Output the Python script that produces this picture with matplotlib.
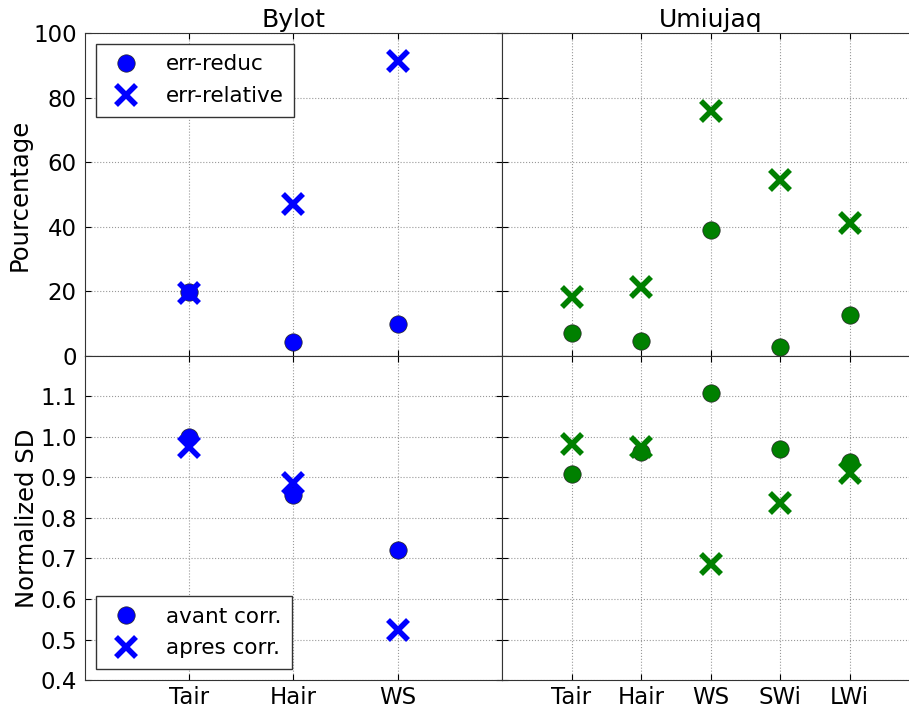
import numpy as np
import matplotlib
matplotlib.use('Agg')
import matplotlib.pyplot as plt

#------------------------------------------------------------------------------#
# Data                                                     #
#------------------------------------------------------------------------------#
sites = ['Bylot', 'Umiujaq']
vars_bylot = ['Tair', 'Hair', 'WS']
vars_umiujaq = ['Tair', 'Hair', 'WS', 'SWi', 'LWi']

# Pourcentage (top row)
bylot_err_reduc = [19.8, 4.3, 9.9]
bylot_err_relative = [19.6, 47.1, 91.3]
umiujaq_err_reduc = [7.1, 4.6, 39.0, 2.8, 12.7]
umiujaq_err_relative = [18.3, 21.4, 75.9, 54.5, 41.2]

# Normalized SD (bottom row)
bylot_avant = [1.0, 0.857, 0.72]
bylot_apres = [0.976, 0.886, 0.523]
umiujaq_avant = [0.908, 0.964, 1.109, 0.971, 0.938]
umiujaq_apres = [0.983, 0.976, 0.687, 0.837, 0.910]

#------------------------------------------------------------------------------#
# Figure                                                                       #
#------------------------------------------------------------------------------#
plt.rcParams['font.family'] = 'DejaVu Sans'
plt.rcParams['font.size'] = 16.5
plt.rcParams['xtick.direction'] = 'in'
plt.rcParams['ytick.direction'] = 'in'
plt.rcParams['xtick.top'] = True
plt.rcParams['ytick.right'] = True
plt.rcParams['xtick.major.size'] = 4
plt.rcParams['ytick.major.size'] = 4
plt.rcParams['xtick.major.pad'] = 4.5
plt.rcParams['ytick.major.pad'] = 6

fig = plt.figure(figsize=(9.09, 7.09), dpi=100)
w = 0.4587
ax_tl = fig.add_axes([0.0935, 0.4979, w, 0.4556])
ax_tr = fig.add_axes([0.5523, 0.4979, w, 0.4556])
ax_bl = fig.add_axes([0.0935, 0.0409, w, 0.4570])
ax_br = fig.add_axes([0.5523, 0.0409, w, 0.4570])

circ = dict(linestyle='none', marker='o', markersize=12.5, markeredgecolor='#222222',
            markeredgewidth=0.5)
cross = dict(linestyle='none', marker='x', markersize=14, markeredgewidth=4)


def draw(ax, names, a, b, color, la, lb):
    x = np.arange(1, len(names) + 1)
    ax.plot(x, a, color=color, label=la, **circ)
    ax.plot(x, b, color=color, label=lb, **cross)
    ax.set_xlim(0, len(names) + 1)
    ax.set_xticks(x)
    ax.set_xticklabels(names)
    ax.grid(True, linestyle=':', color='#999999', linewidth=0.8)
    for s in ax.spines.values():
        s.set_color('#333333')


draw(ax_tl, vars_bylot, bylot_err_reduc, bylot_err_relative, 'blue',
     'err-reduc', 'err-relative')
draw(ax_tr, vars_umiujaq, umiujaq_err_reduc, umiujaq_err_relative, 'green',
     'err-reduc', 'err-relative')
draw(ax_bl, vars_bylot, bylot_avant, bylot_apres, 'blue',
     'avant corr.', 'apres corr.')
draw(ax_br, vars_umiujaq, umiujaq_avant, umiujaq_apres, 'green',
     'avant corr.', 'apres corr.')

for ax in (ax_tl, ax_tr):
    ax.set_ylim(0, 100)
    ax.set_yticks(np.arange(0, 101, 20))
    ax.tick_params(labelbottom=False)
for ax in (ax_bl, ax_br):
    ax.set_ylim(0.4, 1.2)
    ax.set_yticks(np.arange(0.4, 1.15, 0.1))
    ax.set_yticklabels(['%.1f' % v for v in np.arange(0.4, 1.15, 0.1)])
for ax in (ax_tr, ax_br):
    ax.tick_params(labelleft=False)

ax_tl.set_title(sites[0], fontsize=18, pad=4)
ax_tr.set_title(sites[1], fontsize=18, pad=4)
ax_tl.set_ylabel('Pourcentage', fontsize=17.5, labelpad=1)
ax_bl.set_ylabel('Normalized SD', fontsize=17.5, labelpad=1)

leg_kw = dict(numpoints=1, fancybox=False, framealpha=1, edgecolor='#333333',
              handlelength=1.8, handletextpad=0.95, borderpad=0.5,
              labelspacing=0.55, fontsize=15.5)
ax_tl.legend(loc='upper left', **leg_kw)
ax_bl.legend(loc='lower left', **leg_kw)

fig.savefig('out.png', dpi=100)
